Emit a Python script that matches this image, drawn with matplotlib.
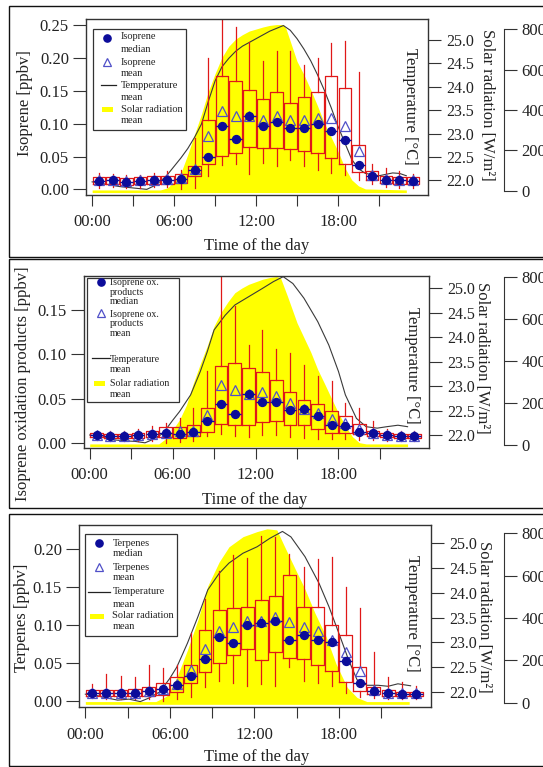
import numpy as np
import matplotlib
matplotlib.use("Agg")
import matplotlib.pyplot as plt
from matplotlib.patches import Rectangle

plt.rcParams["font.family"] = ["Liberation Serif", "DejaVu Serif"]

W, H = 543, 767

# ================= DATA =================
hours = np.arange(24) + 0.5

# panel 1 : isoprene [ppbv]
iso_low = [0.003, 0.004, 0.002, 0.003, 0.004, 0.004, 0.001, 0.002, 0.020, 0.037, 0.038, 0.023,
           0.040, 0.035, 0.045, 0.036, 0.030, 0.025, 0.022, 0.014, 0.008, 0.004, 0.003, 0.003]
iso_q1 = [0.008, 0.009, 0.007, 0.008, 0.009, 0.009, 0.010, 0.021, 0.038, 0.051, 0.055, 0.064,
          0.063, 0.063, 0.062, 0.059, 0.056, 0.048, 0.039, 0.027, 0.015, 0.010, 0.009, 0.008]
iso_med = [0.013, 0.014, 0.012, 0.013, 0.014, 0.015, 0.016, 0.029, 0.050, 0.096, 0.077, 0.111,
           0.096, 0.103, 0.094, 0.094, 0.099, 0.089, 0.075, 0.037, 0.021, 0.015, 0.014, 0.013]
iso_mean = [0.014, 0.015, 0.013, 0.014, 0.015, 0.016, 0.017, 0.031, 0.082, 0.120, 0.111, 0.111,
            0.105, 0.111, 0.105, 0.105, 0.108, 0.108, 0.097, 0.058, 0.022, 0.016, 0.015, 0.014]
iso_q3 = [0.019, 0.019, 0.018, 0.019, 0.020, 0.020, 0.023, 0.036, 0.106, 0.172, 0.165, 0.151,
          0.137, 0.148, 0.132, 0.141, 0.148, 0.172, 0.154, 0.067, 0.028, 0.020, 0.019, 0.019]
iso_high = [0.025, 0.024, 0.022, 0.022, 0.025, 0.028, 0.030, 0.078, 0.200, 0.260, 0.247, 0.225,
            0.195, 0.211, 0.210, 0.190, 0.200, 0.222, 0.226, 0.178, 0.038, 0.032, 0.028, 0.024]

# panel 2 : isoprene oxidation products [ppbv]
iox_low = [0.004, 0.003, 0.003, 0.003, 0.003, 0.000, 0.001, 0.003, 0.008, 0.010, 0.008, 0.007,
           0.009, 0.009, 0.007, 0.006, 0.005, 0.005, 0.005, 0.004, 0.004, 0.003, 0.003, 0.003]
iox_q1 = [0.007, 0.006, 0.006, 0.006, 0.007, 0.007, 0.006, 0.008, 0.013, 0.022, 0.021, 0.021,
          0.024, 0.025, 0.020, 0.020, 0.016, 0.012, 0.011, 0.010, 0.008, 0.007, 0.006, 0.006]
iox_med = [0.009, 0.008, 0.008, 0.009, 0.010, 0.011, 0.010, 0.013, 0.025, 0.044, 0.033, 0.055,
           0.047, 0.046, 0.037, 0.039, 0.031, 0.021, 0.019, 0.013, 0.011, 0.009, 0.008, 0.008]
iox_mean = [0.009, 0.008, 0.008, 0.009, 0.010, 0.012, 0.014, 0.014, 0.032, 0.066, 0.060, 0.056,
            0.058, 0.053, 0.045, 0.039, 0.034, 0.027, 0.023, 0.016, 0.012, 0.009, 0.008, 0.008]
iox_q3 = [0.011, 0.010, 0.010, 0.011, 0.014, 0.018, 0.018, 0.020, 0.040, 0.087, 0.090, 0.085,
          0.080, 0.071, 0.058, 0.049, 0.044, 0.036, 0.031, 0.022, 0.014, 0.011, 0.010, 0.010]
iox_high = [0.014, 0.014, 0.014, 0.016, 0.019, 0.023, 0.028, 0.040, 0.081, 0.190, 0.155, 0.111,
            0.128, 0.106, 0.102, 0.088, 0.076, 0.070, 0.045, 0.040, 0.025, 0.016, 0.014, 0.014]

# panel 3 : terpenes [ppbv]
ter_low = [0.004, 0.003, 0.003, 0.002, 0.003, 0.000, 0.003, 0.005, 0.018, 0.027, 0.024, 0.020,
           0.023, 0.020, 0.045, 0.026, 0.024, 0.020, 0.010, 0.005, 0.004, 0.003, 0.002, 0.002]
ter_q1 = [0.006, 0.006, 0.006, 0.006, 0.007, 0.008, 0.012, 0.024, 0.038, 0.050, 0.060, 0.068,
          0.054, 0.065, 0.057, 0.055, 0.048, 0.039, 0.025, 0.013, 0.009, 0.007, 0.006, 0.006]
ter_med = [0.010, 0.010, 0.010, 0.011, 0.013, 0.016, 0.021, 0.033, 0.055, 0.085, 0.077, 0.100,
           0.103, 0.105, 0.081, 0.087, 0.080, 0.078, 0.053, 0.024, 0.013, 0.010, 0.009, 0.009]
ter_mean = [0.010, 0.010, 0.010, 0.011, 0.013, 0.016, 0.022, 0.041, 0.068, 0.092, 0.097, 0.106,
            0.106, 0.111, 0.104, 0.098, 0.092, 0.080, 0.065, 0.039, 0.015, 0.011, 0.010, 0.010]
ter_q3 = [0.014, 0.014, 0.014, 0.016, 0.019, 0.024, 0.032, 0.047, 0.093, 0.120, 0.122, 0.124,
          0.133, 0.138, 0.166, 0.124, 0.124, 0.100, 0.087, 0.045, 0.018, 0.014, 0.012, 0.012]
ter_high = [0.023, 0.036, 0.033, 0.032, 0.048, 0.044, 0.047, 0.090, 0.135, 0.172, 0.193, 0.188,
            0.217, 0.216, 0.194, 0.177, 0.187, 0.190, 0.150, 0.122, 0.065, 0.032, 0.025, 0.020]

# temperature mean [deg C]
temp1_t = [0, 1, 2, 3, 4, 4.5, 5, 5.5, 6, 6.5, 7, 7.5, 8, 8.5, 9, 9.5, 10, 10.5, 11, 12, 13, 14,
           14.5, 15, 15.5, 16, 16.5, 17, 17.5, 18, 18.5, 19, 19.5, 20, 21, 22, 22.5, 23]
temp1_v = [21.97, 21.92, 21.87, 21.84, 21.81, 21.88, 21.98, 22.12, 22.3, 22.48, 22.68, 22.92,
           23.2, 23.68, 24.12, 24.42, 24.6, 24.75, 24.86, 25.02, 25.18, 25.3, 25.2, 25.02, 24.8,
           24.55, 24.25, 23.92, 23.55, 23.15, 22.8, 22.45, 22.25, 22.15, 22.1, 22.16, 22.15, 22.1]
temp2_t = [0, 1, 1.75, 2.5, 3.25, 4, 4.5, 5.3, 6, 6.5, 7.3, 8, 8.5, 9, 9.8, 10.5, 11.5, 12.5,
           13.3, 14, 14.7, 15.5, 16.5, 17.3, 18, 18.5, 19.3, 20, 20.8, 21.5, 22.3, 23]
temp2_v = [22.0, 21.95, 21.9, 21.88, 21.87, 21.84, 21.9, 22.03, 22.3, 22.48, 22.82, 23.3, 23.7,
           24.15, 24.45, 24.66, 24.83, 25.0, 25.14, 25.24, 25.1, 24.8, 24.32, 23.84, 23.3, 22.82,
           22.34, 22.17, 22.14, 22.17, 22.2, 22.17]
temp3_t = [0, 0.86, 1.6, 2.3, 3.1, 3.9, 4.5, 5.3, 6.0, 6.5, 7.25, 8.0, 8.7, 9.5, 10.2, 11.2, 12.2,
           13.1, 14.0, 14.6, 15.6, 16.6, 17.3, 18.1, 18.7, 19.3, 20.0, 20.8, 21.5, 22.2, 23.1]
temp3_v = [21.95, 21.92, 21.87, 21.83, 21.85, 21.8, 21.87, 22.0, 22.27, 22.5, 22.98, 23.52, 24.06,
           24.39, 24.6, 24.8, 24.93, 25.1, 25.24, 25.13, 24.73, 24.19, 23.72, 23.11, 22.64, 22.24,
           22.13, 22.13, 22.11, 22.16, 22.12]

# solar radiation mean [W/m2]
sol1_t = [0, 5.0, 5.5, 6.0, 6.5, 7.0, 7.5, 8.0, 8.5, 9.0, 9.5, 10.0, 10.5, 11.0, 11.5, 12.0, 12.5,
          13.0, 13.5, 14.0, 14.2, 14.5, 15.0, 15.5, 16.0, 16.5, 17.0, 17.5, 18.0, 18.5, 19.0, 19.5,
          20.0, 23.0]
sol1_v = [5, 5, 15, 45, 90, 180, 280, 380, 490, 580, 660, 715, 750, 772, 790, 800, 810, 818, 822,
          822, 800, 740, 640, 575, 500, 420, 335, 265, 195, 115, 55, 25, 10, 5]
sol2_t = [0, 5.0, 5.5, 6.0, 6.5, 7.0, 7.5, 8.0, 8.5, 9.0, 9.5, 10.0, 10.5, 11.0, 11.5, 12.0, 12.5,
          13.0, 13.5, 13.8, 14.3, 15.0, 15.5, 16.0, 16.5, 17.0, 17.5, 18.0, 18.5, 19.0, 19.5, 20.0,
          23.0]
sol2_v = [5, 5, 30, 72, 120, 190, 294, 385, 470, 565, 630, 680, 723, 745, 763, 775, 787, 795, 800,
          795, 708, 580, 510, 440, 358, 290, 220, 151, 90, 40, 11, 5, 5]
sol3_t = [0, 5.0, 5.8, 6.5, 7.25, 8.0, 8.7, 9.5, 10.2, 11.2, 12.2, 12.9, 13.6, 14.1, 14.9, 15.6,
          16.3, 17.1, 17.8, 18.6, 19.3, 20.0, 23.0]
sol3_v = [5, 5, 32, 120, 248, 392, 552, 664, 736, 784, 808, 821, 816, 744, 632, 536, 424, 312, 184,
          72, 24, 5, 5]

hour_ticks = [0, 3, 6, 9, 12, 15, 18, 21]
hour_labels = ["00:00", "", "06:00", "", "12:00", "", "18:00", ""]
temp_ticks = [22.0, 22.5, 23.0, 23.5, 24.0, 24.5, 25.0]
sol_ticks = [0, 200, 400, 600, 800]

# ================= STYLE =================
RED = "#e01818"
NAVY = "#0c0c9a"
TRI = "#5050c8"
YELLOW = "#ffff00"
FRAME = "#333333"
PT = 0.72  # points per pixel at dpi 100

fig = plt.figure(figsize=(W / 100, H / 100), dpi=100)


def px_axes(l, t, r, b):
    return fig.add_axes([l / W, 1 - b / H, (r - l) / W, (b - t) / H])


def ftext(x, y, s, **kw):
    fig.text(x / W, 1 - y / H, s, **kw)


def draw_legend(ax, frame, leg):
    l, t, r, b = frame

    def af(dx, dy):
        return dx / (r - l), 1 - dy / (b - t)

    x0, y0, x1, y1 = leg["box"]
    bx, by = af(x0, y1)
    bw, bh = (x1 - x0) / (r - l), (y1 - y0) / (b - t)
    ax.add_patch(Rectangle((bx, by), bw, bh, transform=ax.transAxes, facecolor="white",
                           edgecolor=FRAME, lw=0.9, zorder=20, clip_on=False))
    for kind, hy, lines in leg["entries"]:
        if kind == "median":
            ax.plot(*af(leg["mx"], hy), "o", ms=5.2, color=NAVY, transform=ax.transAxes,
                    zorder=21, clip_on=False)
        elif kind == "mean":
            ax.plot(*af(leg["mx"], hy), "^", ms=6.3, mfc="none", mec=TRI, mew=0.9,
                    transform=ax.transAxes, zorder=21, clip_on=False)
        elif kind == "line":
            xa, ya = af(leg["line"][0], hy)
            xb, _ = af(leg["line"][1], hy)
            ax.plot([xa, xb], [ya, ya], color="#222222", lw=0.9, transform=ax.transAxes,
                    zorder=21, clip_on=False)
        else:
            xa, ya = af(leg["patch"][0], hy + 2.5)
            xb, yb = af(leg["patch"][1], hy - 2.5)
            ax.add_patch(Rectangle((xa, ya), xb - xa, yb - ya, transform=ax.transAxes,
                                   facecolor=YELLOW, edgecolor="none", zorder=21))
        for txt, ty in lines:
            ax.text(*af(leg["tx"], ty), txt, fontsize=leg["fs"], ha="left", va="center",
                    transform=ax.transAxes, zorder=22, color="#222222")


def draw_panel(p):
    l, t, r, b = p["frame"]
    ax = px_axes(l, t, r, b)
    ax_s = ax.twinx()
    ax_t = ax.twinx()
    ax_s.set_zorder(1)
    ax_t.set_zorder(2)
    ax.set_zorder(3)
    ax.patch.set_visible(False)
    ax_t.patch.set_visible(False)

    # solar radiation (far right axis)
    ax_s.fill_between(p["sol_t"], -8, p["sol_v"], color=YELLOW, lw=0)
    ax_s.set_ylim(*p["slim"])
    for side in ["left", "top", "bottom"]:
        ax_s.spines[side].set_visible(False)
    ax_s.spines["right"].set_position(("axes", (503.5 - l) / (r - l)))
    ax_s.spines["right"].set_bounds(0, 800)
    ax_s.spines["right"].set_color(FRAME)
    ax_s.set_yticks(sol_ticks)
    ax_s.tick_params(axis="y", direction="out", length=13 * PT, pad=5 * PT, labelsize=12,
                     color=FRAME, labelcolor="#222222")

    # temperature (right axis)
    ax_t.plot(p["temp_t"], p["temp_v"], color="#3a3a3a", lw=0.8)
    ax_t.set_ylim(*p["tlim"])
    for side in ax_t.spines:
        ax_t.spines[side].set_visible(False)
    ax_t.set_yticks(temp_ticks)
    ax_t.set_yticklabels([f"{v:.1f}" for v in temp_ticks])
    ax_t.tick_params(axis="y", direction="out", length=13.5 * PT, pad=5 * PT, labelsize=11.5,
                     color=FRAME, labelcolor="#222222")

    # species box plots
    stats = [dict(med=m, q1=a, q3=c, whislo=lo, whishi=hi, mean=mn, fliers=[])
             for lo, a, m, mn, c, hi in zip(*p["data"])]
    ax.bxp(stats, positions=hours, widths=0.92, showmeans=True, showcaps=False,
           showfliers=False, manage_ticks=False,
           boxprops=dict(color=RED, lw=0.9),
           whiskerprops=dict(color=RED, lw=0.9),
           medianprops=dict(color=NAVY, lw=1.0),
           meanprops=dict(marker="^", markersize=6.5, markerfacecolor="none",
                          markeredgecolor=TRI, markeredgewidth=0.9))
    ax.plot(hours, p["data"][2], "o", ms=5.7, color=NAVY, zorder=5)

    ax.set_xlim(-0.45, 24.55)
    ax.set_ylim(*p["ylim"])
    ax.set_yticks(p["yticks"])
    ax.set_yticklabels([f"{v:.2f}" for v in p["yticks"]])
    ax.set_xticks(hour_ticks)
    ax.set_xticklabels(hour_labels)
    ax.tick_params(axis="y", direction="out", length=13 * PT, pad=4 * PT, labelsize=12,
                   color=FRAME, labelcolor="#222222")
    ax.tick_params(axis="x", direction="out", length=11 * PT, pad=8.5 * PT, labelsize=12,
                   color=FRAME, labelcolor="#222222")
    for side in ax.spines:
        ax.spines[side].set_color(FRAME)
        ax.spines[side].set_linewidth(1.0)

    draw_legend(ax, p["frame"], p["legend"])

    lab = dict(fontsize=12, color="#222222", ha="center", va="center")
    ftext(*p["ylab_xy"], p["ylabel"], rotation=90, **lab)
    ftext(*p["tlab_xy"], "Temperature [°C]", rotation=-90, **lab)
    ftext(*p["slab_xy"], "Solar radiation [W/m²]", rotation=-90, **lab)
    ftext(*p["xlab_xy"], "Time of the day", **lab)

    top, bot = p["border"]
    fig.add_artist(Rectangle((9 / W, 1 - bot / H), (600 - 9) / W, (bot - top) / H,
                             transform=fig.transFigure, fill=False, edgecolor="#111111",
                             lw=1.0))


panels = [
    dict(frame=(86, 18.5, 427.5, 195), border=(6, 256.5),
         data=(iso_low, iso_q1, iso_med, iso_mean, iso_q3, iso_high),
         ylim=(-0.0084, 0.26), yticks=[0.0, 0.05, 0.10, 0.15, 0.20, 0.25],
         tlim=(21.69, 25.45), slim=(-20, 852),
         temp_t=temp1_t, temp_v=temp1_v, sol_t=sol1_t, sol_v=sol1_v,
         ylabel="Isoprene [ppbv]", ylab_xy=(25, 103), tlab_xy=(410, 106),
         slab_xy=(487, 105), xlab_xy=(257, 246),
         legend=dict(box=(6.7, 10, 100, 111.7), mx=21.3, tx=34.7, line=(14.7, 30),
                     patch=(15.7, 27.3), fs=7.5,
                     entries=[("median", 19, [("Isoprene", 18.4), ("median", 31)]),
                              ("mean", 43.4, [("Isoprene", 44), ("mean", 55)]),
                              ("line", 66.7, [("Tempperature", 66.7), ("mean", 79)]),
                              ("patch", 91, [("Solar radiation", 90.7), ("mean", 102.4)])])),
    dict(frame=(83.5, 275.7, 429, 447.7), border=(258.5, 508),
         data=(iox_low, iox_q1, iox_med, iox_mean, iox_q3, iox_high),
         ylim=(-0.005, 0.1886), yticks=[0.0, 0.05, 0.10, 0.15],
         tlim=(21.74, 25.26), slim=(-13, 804),
         temp_t=temp2_t, temp_v=temp2_v, sol_t=sol2_t, sol_v=sol2_v,
         ylabel="Isoprene oxidation products [ppbv]", ylab_xy=(23.5, 384), tlab_xy=(412, 365),
         slab_xy=(482, 358), xlab_xy=(255, 500),
         legend=dict(box=(3.4, 2, 95.5, 126), mx=17.9, tx=26.5, line=(8.6, 26.5),
                     patch=(10, 21.4), fs=7.1,
                     entries=[("median", 6, [("Isoprene ox.", 6.7), ("products", 17),
                                             ("median", 25.3)]),
                              ("mean", 37.7, [("Isoprene ox.", 38.7), ("products", 48.3),
                                              ("mean", 58.3)]),
                              ("line", 82.7, [("Temperature", 83.3), ("mean", 94.3)]),
                              ("patch", 107.7, [("Solar radiation", 107.7), ("mean", 118.7)])])),
    dict(frame=(79, 525, 431, 707.3), border=(514, 766),
         data=(ter_low, ter_q1, ter_med, ter_mean, ter_q3, ter_high),
         ylim=(-0.0083, 0.232), yticks=[0.0, 0.05, 0.10, 0.15, 0.20],
         tlim=(21.685, 25.37), slim=(-22, 839),
         temp_t=temp3_t, temp_v=temp3_v, sol_t=sol3_t, sol_v=sol3_v,
         ylabel="Terpenes [ppbv]", ylab_xy=(22.5, 618), tlab_xy=(412, 613),
         slab_xy=(484, 617), xlab_xy=(257, 757),
         legend=dict(box=(5.9, 9, 98, 111), mx=19.7, tx=33.4, line=(9.3, 31),
                     patch=(11, 24.8), fs=7.5,
                     entries=[("median", 18.3, [("Terpenes", 19), ("median", 28.3)]),
                              ("mean", 42.3, [("Terpenes", 42.3), ("mean", 52.3)]),
                              ("line", 66.7, [("Temperature", 66.7), ("mean", 79.3)]),
                              ("patch", 91, [("Solar radiation", 91), ("mean", 101.7)])])),
]

for panel in panels:
    draw_panel(panel)

fig.savefig("out.png", dpi=100)
